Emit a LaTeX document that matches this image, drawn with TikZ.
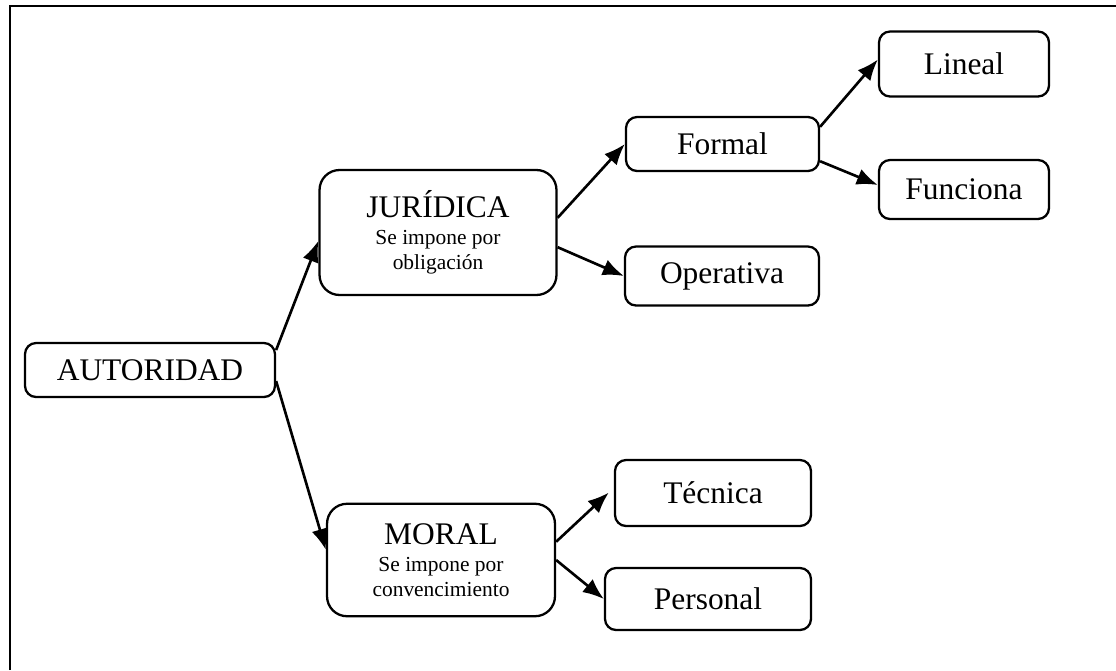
\documentclass[tikz,border=0pt]{standalone}
\usepackage{fontspec}
\setmainfont{Liberation Serif}
\usepackage{tikz}
\usetikzlibrary{arrows.meta}

\newcommand{\bigfnt}{\fontsize{17.9}{20}\selectfont}
\newcommand{\smallfnt}{\fontsize{12.2}{14.2}\selectfont}

\begin{document}
\begin{tikzpicture}[x=0.02cm, y=-0.02cm,
        box/.style={draw, line width=1.3pt, rounded corners=0.22cm, inner sep=0pt,
                    align=center, font=\bigfnt},
        bigbox/.style={box, rounded corners=0.4cm, font=\smallfnt},
        arr/.style={line width=1.5pt, -{Latex[length=12pt,width=9.5pt]}}]
        \useasboundingbox (0,0) rectangle (1116,670);
        % frame
        \draw[line width=1.3pt] (10,670) -- (10,6) -- (1116,6);

        % boxes
        \node[box, minimum width=5cm, minimum height=1.08cm] (aut) at (150,370) {AUTORIDAD};
        \node[bigbox, minimum width=4.74cm, minimum height=2.5cm] (jur) at (438,232.5)
            {{\bigfnt JURÍDICA}\\[1pt] Se impone por\\ obligación};
        \node[bigbox, minimum width=4.56cm, minimum height=2.25cm] (moral) at (441,560)
            {{\bigfnt MORAL}\\[1pt] Se impone por\\ convencimiento};
        \node[box, minimum width=3.86cm, minimum height=1.08cm] (formal) at (722.5,144) {Formal};
        \node[box, minimum width=3.88cm, minimum height=1.18cm] (oper) at (722,276) {Operativa};
        \node[box, minimum width=3.4cm, minimum height=1.3cm] (lineal) at (964,64) {Lineal};
        \node[box, minimum width=3.4cm, minimum height=1.18cm] (func) at (964,189.5) {Funciona};
        \node[box, minimum width=3.92cm, minimum height=1.32cm] (tec) at (713,493) {Técnica};
        \node[box, minimum width=4.12cm, minimum height=1.24cm] (pers) at (708,599) {Personal};

        % arrows
        \draw[arr] (aut.9) -- (jur.184);
        \draw[arr] (aut.-5) -- (moral.175);
        \draw[arr] (jur.7) -- (formal.west);
        \draw[arr] (jur.-7) -- (oper.west);
        \draw[arr] (formal.10) -- (lineal.177);
        \draw[arr] (formal.-10) -- (func.177);
        \draw[arr, shorten >=0.14cm] (moral.9) -- (tec.177);
        \draw[arr] (moral.east) -- (pers.west);
    \end{tikzpicture}
\end{document}
